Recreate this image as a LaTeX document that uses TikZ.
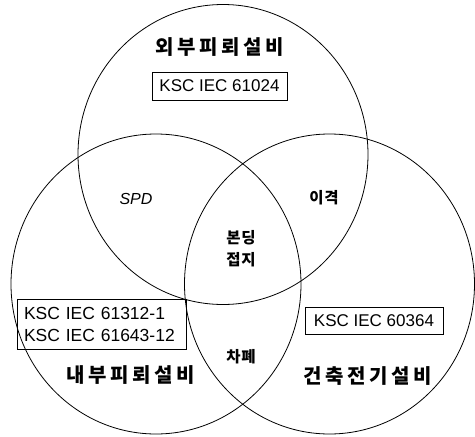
\documentclass[tikz,border=0pt]{standalone}
\usepackage{fontspec}
\setmainfont{Liberation Sans}
\newfontfamily\kr{Noto Sans CJK KR}[LetterSpace=18]
\newfontfamily\krs{Noto Sans CJK KR}[LetterSpace=6]
\usetikzlibrary{shapes.geometric}
\begin{document}
\begin{tikzpicture}[x=1pt,y=-1pt,
  ring/.style={draw=black,line width=0.8pt,ellipse,inner sep=0pt,minimum width=290pt,minimum height=300pt},
  stdbox/.style={draw=black,line width=0.7pt,inner sep=0pt,font=\fontsize{17}{21}\selectfont},
  title/.style={font=\kr\bfseries\fontsize{20}{24}\selectfont,inner sep=0pt},
  small/.style={font=\krs\bfseries\fontsize{15.5}{21}\selectfont,inner sep=0pt,align=center}]
\useasboundingbox (0,0) rectangle (475,437);
\node[ring] (top) at (223,154.5) {};
\node[ring] (left) at (156,284) {};
\node[ring] (right) at (329.5,284) {};
\node[title] (tA) at (220,47) {외부피뢰설비};
\node[stdbox,minimum width=135pt,minimum height=28pt] (bA) at (219.5,86) {KSC IEC 61024};
\node[font=\fontsize{16}{20}\selectfont\itshape,inner sep=0pt] (spd) at (136,199) {SPD};
\node[small] (iso) at (324,198) {이격};
\node[small,font=\krs\bfseries\fontsize{15.5}{22}\selectfont] (bond) at (241,249) {본딩\\접지};
\node[stdbox,minimum width=169pt,minimum height=50pt,align=left,text width=155pt,font=\fontsize{17.5}{22}\selectfont] (bB) at (101.5,324) {KSC IEC 61312-1\\KSC IEC 61643-12};
\node[small] (shield) at (241,357) {차폐};
\node[title] (tB) at (131,375) {내부피뢰설비};
\node[stdbox,minimum width=138pt,minimum height=27pt] (bC) at (374,320.5) {KSC IEC 60364};
\node[title] (tC) at (368,376) {건축전기설비};
\end{tikzpicture}
\end{document}
